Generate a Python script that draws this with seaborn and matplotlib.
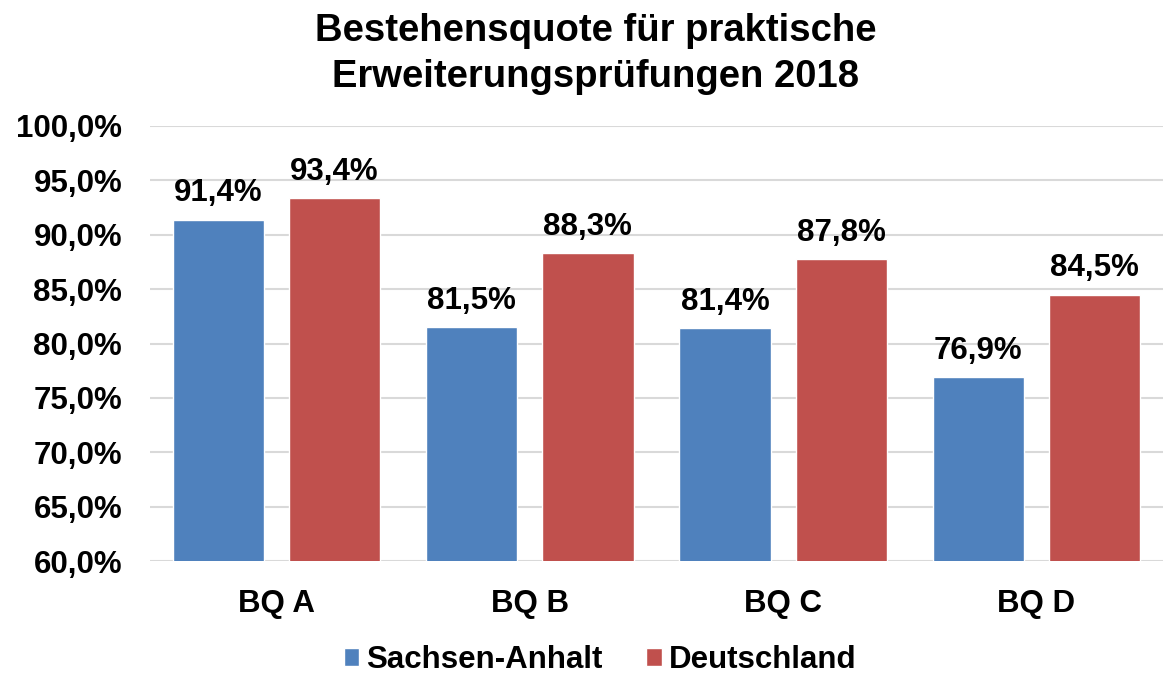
import matplotlib
matplotlib.use("Agg")
import matplotlib.pyplot as plt
import seaborn as sns
import pandas as pd
from matplotlib.ticker import FuncFormatter

# ── Data ───────────────────────────────────────────────────────────────────
categories = ["BQ A", "BQ B", "BQ C", "BQ D"]
series     = ["Sachsen-Anhalt", "Deutschland"]
sachsen    = [91.4, 81.5, 81.4, 76.9]
deutsch    = [93.4, 88.3, 87.8, 84.5]
yticks     = [60, 65, 70, 75, 80, 85, 90, 95, 100]
title      = "Bestehensquote für praktische\nErweiterungsprüfungen 2018"

colors = ["#4F81BD", "#C0504D"]

df = pd.DataFrame({
    "Kategorie": categories * 2,
    "Quote": sachsen + deutsch,
    "Region": [series[0]] * len(categories) + [series[1]] * len(categories),
})

sns.set_style("white")
plt.rcParams["font.family"] = ["Liberation Sans", "DejaVu Sans"]
plt.rcParams["font.weight"] = "bold"
plt.rcParams["text.color"] = "black"
plt.rcParams["xtick.color"] = "black"
plt.rcParams["ytick.color"] = "black"

FS = 22.5

fig = plt.figure(figsize=(11.66, 6.74), dpi=100)
ax = fig.add_axes([150 / 1166, 1 - 561 / 674, 1013 / 1166, 435 / 674])

sns.barplot(data=df, x="Kategorie", y="Quote", hue="Region",
            hue_order=series, palette=colors, saturation=1,
            width=0.917, gap=0.215,
            edgecolor="white", linewidth=1, ax=ax, legend=True)

fmt = lambda v: f"{v:.1f}%".replace(".", ",")
for cont in ax.containers:
    ax.bar_label(cont, labels=[fmt(b.get_height()) for b in cont],
                 padding=8, fontsize=FS, fontweight="bold", color="black")

ax.set_ylim(60, 100)
ax.set_yticks(yticks)
ax.yaxis.set_major_formatter(FuncFormatter(lambda v, _: fmt(v)))
ax.set_xlim(-0.5, 3.5)
ax.grid(axis="y", color="#D9D9D9", linewidth=1.5)
ax.set_axisbelow(True)
for s in ax.spines.values():
    s.set_visible(False)
ax.tick_params(axis="y", length=0, pad=20, labelsize=FS)
ax.tick_params(axis="x", length=0, pad=20, labelsize=FS)
for t in ax.get_xticklabels() + ax.get_yticklabels():
    t.set_fontweight("bold")
ax.set_xlabel("")
ax.set_ylabel("")

handles, labels = ax.get_legend_handles_labels()
ax.get_legend().remove()
fig.legend(handles, labels, loc="center", bbox_to_anchor=(600 / 1166, 0.021),
           ncol=2, frameon=False, handlelength=0.5, handleheight=0.5,
           handletextpad=0.22, columnspacing=1.4,
           prop={"weight": "bold", "size": FS})

fig.suptitle(title, x=596 / 1166, y=0.98, fontsize=27.5, fontweight="bold",
             va="top", linespacing=1.35)

fig.savefig("out.png", dpi=100)
